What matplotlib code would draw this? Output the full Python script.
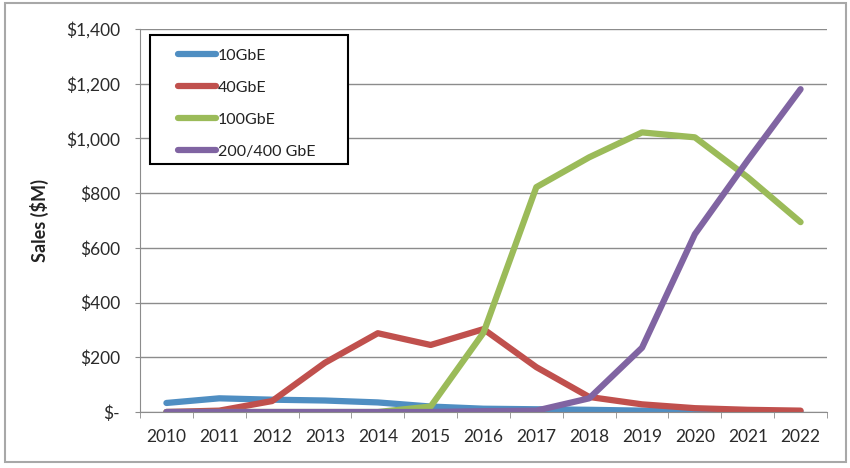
import matplotlib
matplotlib.use("Agg")
import matplotlib.pyplot as plt
from matplotlib.patches import Rectangle
from matplotlib.ticker import FuncFormatter

years = ["2010", "2011", "2012", "2013", "2014", "2015", "2016",
         "2017", "2018", "2019", "2020", "2021", "2022"]
series_names = ["10GbE", "40GbE", "100GbE", "200/400 GbE"]
s10 = [33, 50, 45, 42, 35, 20, 12, 10, 8, 5, 3, 2, 1]
s40 = [0, 5, 40, 180, 288, 245, 303, 164, 55, 28, 14, 8, 5]
s100 = [0, 0, 0, 0, 0, 20, 290, 822, 931, 1022, 1004, 858, 694]
s200 = [0, 0, 0, 0, 0, 0, 3, 5, 50, 235, 650, 920, 1180]
colors = ["#4F8EC2", "#C0504D", "#9BBB59", "#8064A2"]
y_ticks = [0, 200, 400, 600, 800, 1000, 1200, 1400]

plt.rcParams['font.family'] = ['Lato', 'DejaVu Sans']

fig = plt.figure(figsize=(8.5, 4.68), dpi=100)
fig.patches.append(Rectangle((5/850, 1-462/468), 841/850, 459/468,
                             transform=fig.transFigure, fill=False,
                             edgecolor="#A8A8A8", linewidth=1.5))
ax = fig.add_axes([140/850, 1-412/468, 687/850, 383/468])

x = list(range(len(years)))
for vals, name, c in zip([s10, s40, s100, s200], series_names, colors):
    ax.plot(x, vals, color=c, linewidth=4.5, label=name,
            solid_capstyle='round', solid_joinstyle='round')

ax.set_xlim(-0.5, len(years) - 0.5)
ax.set_ylim(0, 1400)
ax.set_yticks(y_ticks)
ax.yaxis.set_major_formatter(FuncFormatter(lambda v, p: "$-" if v == 0 else f"${v:,.0f}"))
ax.set_xticks(x)
ax.set_xticklabels(years)
ax.set_xticks([i - 0.5 for i in range(len(years) + 1)], minor=True)
ax.tick_params(axis='x', which='major', length=0, labelsize=12.5, pad=12, colors='#2A2A2A')
ax.tick_params(axis='x', which='minor', length=4, color='#8C8C8C', direction='out')
ax.tick_params(axis='y', length=3.6, color='#8C8C8C', labelsize=12.5, pad=10.8, labelcolor='#2A2A2A')
ax.grid(axis='y', color='#8C8C8C', linewidth=1)
ax.set_axisbelow(True)
for s in ['top', 'right']:
    ax.spines[s].set_visible(False)
for s in ['left', 'bottom']:
    ax.spines[s].set_color('#8C8C8C')
ax.set_ylabel("Sales ($M)", fontsize=13, fontweight='bold', labelpad=12, color='#222222')

# legend frame drawn separately to match the wide box
ax.add_patch(Rectangle((0.0146, 0.6475), 0.2882, 0.3365, transform=ax.transAxes,
                       fill=True, facecolor='white', edgecolor='black',
                       linewidth=1.5, zorder=5, clip_on=False))
leg = ax.legend(loc='upper left', bbox_to_anchor=(0.0553, 0.949), borderaxespad=0,
                frameon=False, fontsize=11.5,
                handlelength=2.4, handletextpad=0.1, labelspacing=1.12,
                borderpad=0)
leg.set_zorder(6)
for t in leg.get_texts():
    t.set_color('#222222')

fig.savefig("out.png", dpi=100)
